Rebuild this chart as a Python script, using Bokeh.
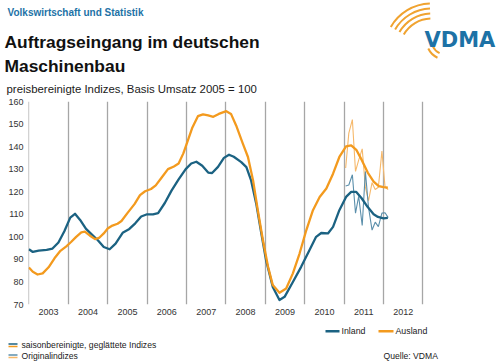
from bokeh.plotting import figure
from bokeh.models import Range1d, FixedTicker, Label
from bokeh.layouts import column
from bokeh.embed import file_html
from bokeh.resources import INLINE

# ---------------- data ----------------
year_bounds = [2003, 2004, 2005, 2006, 2007, 2008, 2009, 2010, 2011, 2012, 2013]
year_labels = ["2003", "2004", "2005", "2006", "2007", "2008", "2009", "2010", "2011", "2012"]
y_ticks = [70, 80, 90, 100, 110, 120, 130, 140, 150, 160]

inland_t = [2003.00, 2003.10, 2003.25, 2003.45, 2003.60, 2003.75, 2003.90, 2004.05, 2004.17, 2004.30,
            2004.45, 2004.60, 2004.75, 2004.90, 2005.05, 2005.20, 2005.38, 2005.55, 2005.70, 2005.85,
            2006.00, 2006.15, 2006.28, 2006.45, 2006.62, 2006.80, 2006.98, 2007.12, 2007.25, 2007.40,
            2007.55, 2007.65, 2007.80, 2007.95, 2008.08, 2008.20, 2008.39, 2008.52, 2008.64, 2008.77,
            2008.90, 2009.02, 2009.19, 2009.36, 2009.49, 2009.70, 2009.91, 2010.12, 2010.29, 2010.42,
            2010.59, 2010.72, 2010.88, 2011.05, 2011.18, 2011.31, 2011.45, 2011.60, 2011.75, 2011.86,
            2012.00, 2012.11]
inland_v = [94.5, 93.3, 93.9, 94.2, 94.8, 97.5, 102.5, 108.5, 110.2, 107.5,
            103.5, 101.0, 98.5, 95.5, 94.5, 97.0, 101.8, 103.5, 106.0, 109.0,
            110.0, 110.0, 110.5, 115.0, 120.5, 125.5, 130.0, 132.5, 133.3, 131.5,
            128.5, 128.3, 131.0, 135.0, 136.4, 135.5, 133.1, 130.9, 125.0, 114.7,
            101.5, 89.6, 77.8, 72.0, 73.4, 80.0, 86.7, 94.1, 100.0, 101.7,
            101.5, 104.4, 111.8, 117.7, 119.9, 119.9, 117.0, 113.2, 110.0, 108.8,
            108.2, 108.4]

ausland_t = [2003.00, 2003.10, 2003.22, 2003.35, 2003.50, 2003.65, 2003.80, 2003.95, 2004.07, 2004.20,
             2004.33, 2004.42, 2004.55, 2004.68, 2004.78, 2004.90, 2005.00, 2005.12, 2005.25, 2005.35,
             2005.50, 2005.68, 2005.82, 2005.95, 2006.10, 2006.22, 2006.38, 2006.53, 2006.68, 2006.80,
             2006.92, 2007.04, 2007.15, 2007.29, 2007.42, 2007.55, 2007.68, 2007.82, 2008.01, 2008.13,
             2008.26, 2008.43, 2008.56, 2008.69, 2008.81, 2008.94, 2009.07, 2009.19, 2009.36, 2009.53,
             2009.70, 2009.87, 2010.04, 2010.21, 2010.38, 2010.55, 2010.72, 2010.88, 2011.05, 2011.18,
             2011.31, 2011.45, 2011.60, 2011.75, 2011.88, 2012.00, 2012.11]
ausland_v = [86.4, 84.5, 83.3, 83.8, 86.5, 90.5, 93.8, 95.8, 97.7, 100.0,
             102.0, 102.3, 100.5, 99.0, 99.5, 101.5, 103.7, 105.0, 105.8, 107.0,
             110.5, 114.5, 118.5, 120.2, 121.2, 122.8, 126.5, 130.0, 131.2, 132.5,
             137.0, 143.0, 148.5, 153.5, 154.3, 153.8, 153.2, 154.5, 155.7, 154.5,
             149.4, 141.3, 135.4, 125.0, 111.8, 98.5, 86.7, 78.6, 75.2, 77.1,
             83.8, 92.6, 102.9, 111.8, 117.7, 121.4, 128.0, 135.4, 140.1, 140.5,
             138.6, 134.0, 128.5, 124.5, 122.5, 122.0, 121.8]

orig_t = [2011.04, 2011.12, 2011.21, 2011.29, 2011.37, 2011.46, 2011.54,
          2011.62, 2011.71, 2011.79, 2011.87, 2011.96, 2012.04, 2012.12]
inland_orig = [122.5, 123.0, 127.5, 110.5, 118.0, 105.0, 129.0,
               113.0, 103.0, 106.5, 104.5, 110.5, 110.7, 108.5]
ausland_orig = [130.5, 146.0, 152.0, 129.0, 134.0, 139.0, 122.0,
                116.0, 124.0, 121.0, 122.0, 138.0, 122.0, 121.0]

# ---------------- styles ----------------
FONT = "Liberation Sans"
TEAL = "#1b6282"
ORANGE = "#f39a1e"
TEAL_LIGHT = "#5b8fab"
ORANGE_LIGHT = "#f6b86a"
BLUE = "#1d72a6"
TXT = "#1a1a1a"
W = 498


def lab(fig, x, y, text, size, color=TXT, bold=False, baseline="alphabetic", font=FONT, align="left"):
    fig.add_layout(Label(x=x, y=y, text=text, text_font=font, text_font_size=size,
                         text_color=color, text_font_style="bold" if bold else "normal",
                         text_baseline=baseline, text_align=align))


def bare(w, h):
    f = figure(width=w, height=h, x_range=Range1d(0, w), y_range=Range1d(0, h),
               min_border=0, toolbar_location=None, output_backend="svg",
               x_axis_type=None, y_axis_type=None, frame_align=False)
    f.outline_line_color = None
    f.grid.visible = False
    return f


# ---------------- header (95 px) ----------------
hdr = bare(W, 95)
lab(hdr, 7, 83, "Volkswirtschaft und Statistik", "10px", BLUE, bold=True)
lab(hdr, 4, 53.3, "Auftragseingang im deutschen", "17.4px", "#111111", bold=True)
lab(hdr, 4, 30, "Maschinenbau", "17.4px", "#111111", bold=True)
lab(hdr, 6, 6.7, "preisbereinigte Indizes, Basis Umsatz 2005 = 100", "11.4px", TXT)
lab(hdr, 424, 56, "VDMA", "21px", BLUE, bold=True, font="DejaVu Sans")
deg = 3.141592653589793 / 180
for r in [47, 42, 37, 32]:
    hdr.arc(x=[431], y=[45], radius=r, start_angle=92 * deg, end_angle=150 * deg,
            line_color="#f0a330", line_width=2.0)
for r in [14, 19]:
    hdr.arc(x=[445], y=[55], radius=r, start_angle=205 * deg, end_angle=245 * deg,
            line_color="#f0a330", line_width=2.0)

# ---------------- main chart (225 px) ----------------
p = figure(width=W, height=225,
           x_range=Range1d(2002.99, 2013.447), y_range=Range1d(70, 160),
           min_border_left=28, min_border_right=58, min_border_top=6, min_border_bottom=16,
           toolbar_location=None, output_backend="svg", frame_align=False)
p.outline_line_color = None
p.ygrid.visible = False
p.xgrid.ticker = FixedTicker(ticks=year_bounds)
p.xgrid.grid_line_color = "#a6a6a6"
p.xgrid.grid_line_width = 1.3

mid_ticks = [b + 0.5 for b in year_bounds[:-1]]
p.xaxis.ticker = FixedTicker(ticks=mid_ticks)
p.xaxis.major_label_overrides = {t: s for t, s in zip(mid_ticks, year_labels)}
p.yaxis.ticker = FixedTicker(ticks=y_ticks)
for ax in (p.xaxis, p.yaxis):
    ax.axis_line_color = None
    ax.major_tick_line_color = None
    ax.minor_tick_line_color = None
    ax.major_tick_out = 0
    ax.major_tick_in = 0
    ax.major_label_text_font = FONT
    ax.major_label_text_font_size = "9px"
    ax.major_label_text_color = "#333333"
p.xaxis.major_label_standoff = 4
p.yaxis.major_label_standoff = 5

p.line(orig_t, ausland_orig, line_color=ORANGE_LIGHT, line_width=1.1)
p.line(orig_t, inland_orig, line_color=TEAL_LIGHT, line_width=1.1)
p.line(inland_t, inland_v, line_color=TEAL, line_width=2.3, line_join="round")
p.line(ausland_t, ausland_v, line_color=ORANGE, line_width=2.3, line_join="round")

# ---------------- footer (42 px) ----------------
ftr = bare(W, 42)
ftr.segment(x0=[325], y0=[31.3], x1=[339], y1=[31.3], line_color=TEAL, line_width=2.5)
lab(ftr, 341, 31.3, "Inland", "8.8px", baseline="middle")
ftr.segment(x0=[378], y0=[31.3], x1=[393], y1=[31.3], line_color=ORANGE, line_width=2.5)
lab(ftr, 395, 31.3, "Ausland", "8.8px", baseline="middle")

ftr.quad(left=[8], right=[17], bottom=[17.8], top=[19.3], fill_color=TEAL, line_color=None)
ftr.quad(left=[8], right=[17], bottom=[15.2], top=[16.7], fill_color=ORANGE, line_color=None)
lab(ftr, 21, 17.5, "saisonbereinigte, geglättete Indizes", "8.6px", baseline="middle")
ftr.quad(left=[8], right=[17], bottom=[6.8], top=[8.3], fill_color=TEAL_LIGHT, line_color=None)
ftr.quad(left=[8], right=[17], bottom=[4.2], top=[5.7], fill_color=ORANGE_LIGHT, line_color=None)
lab(ftr, 21, 6.5, "Originalindizes", "8.6px", baseline="middle")
lab(ftr, 383, 6.5, "Quelle: VDMA", "8.6px", baseline="middle")

layout = column(hdr, p, ftr, spacing=0)
open("out.html", "w").write(file_html(layout, INLINE))
